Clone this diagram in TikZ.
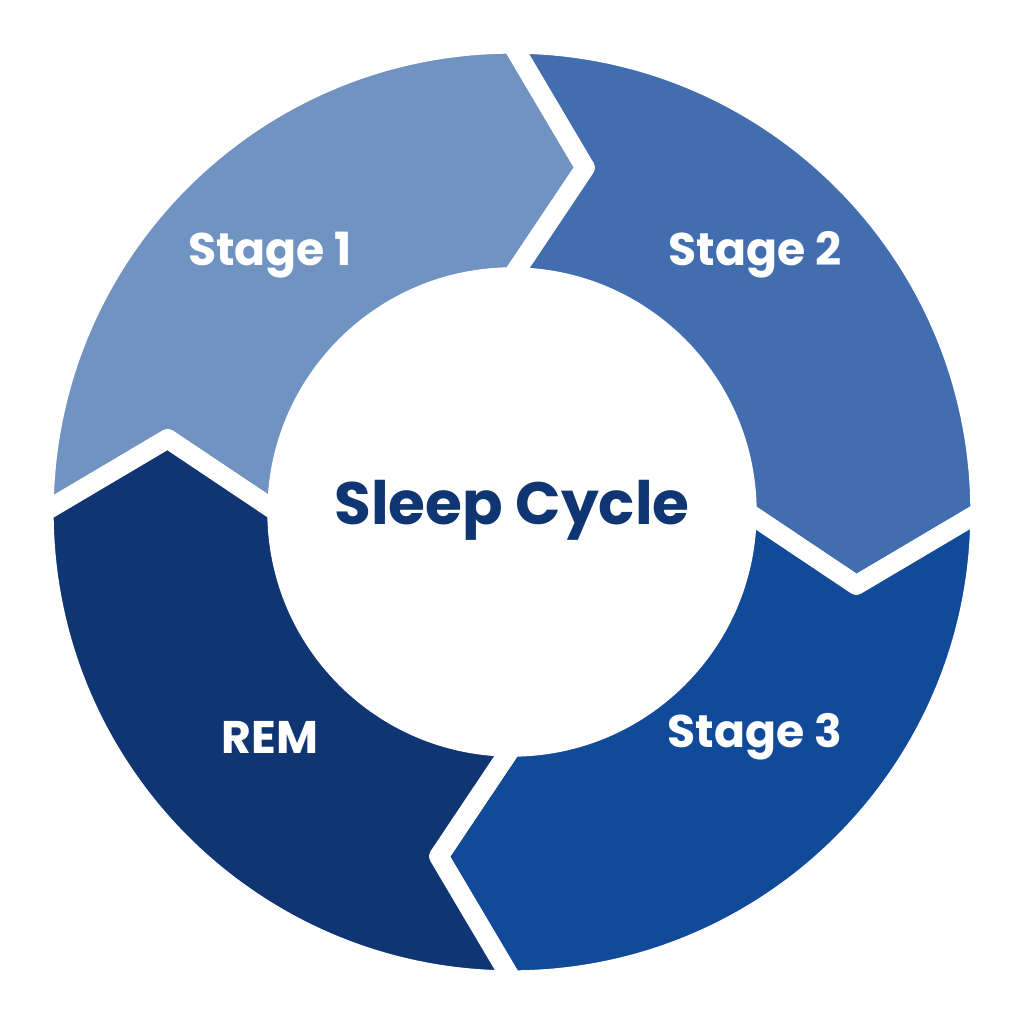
\documentclass[tikz,border=0pt]{standalone}
\usepackage{fontspec}
\setmainfont{Poppins}
\definecolor{stageone}{HTML}{7193C2}
\definecolor{stagetwo}{HTML}{426EAF}
\definecolor{stagethree}{HTML}{124A9A}
\definecolor{remblue}{HTML}{0F3673}
\newcommand{\segpath}[2]{(#1:468) arc (#1:#2:468) -- (#2-12:352) -- (#2:235)
  arc (#2:#1:235) -- (#1-12:352) -- cycle}
\tikzset{
  seg/.style={draw=white,line width=5.5pt,line join=round},
  seglabel/.style={text=white,font=\bfseries\fontsize{13}{15}\selectfont}
}
\begin{document}
\begin{tikzpicture}[x=0.01cm,y=0.01cm]
\useasboundingbox[fill=white] (-512,-512) rectangle (512,512);
% ring segments, clockwise from the left
\fill[stageone,seg] \segpath{180}{90};
\fill[stagetwo,seg] \segpath{90}{0};
\fill[stagethree,seg] \segpath{0}{-90};
\fill[remblue,seg] \segpath{-90}{-180};
% labels
\node[seglabel] (s1) at (-242,257) {Stage 1};
\node[seglabel] (s2) at (243,257) {Stage 2};
\node[seglabel] (s3) at (243,-225) {Stage 3};
\node[seglabel] (rem) at (-242,-225) {REM};
\node[text=remblue,font=\bfseries\fontsize{17}{20}\selectfont] (cyc) at (0,2) {Sleep Cycle};
\end{tikzpicture}
\end{document}
